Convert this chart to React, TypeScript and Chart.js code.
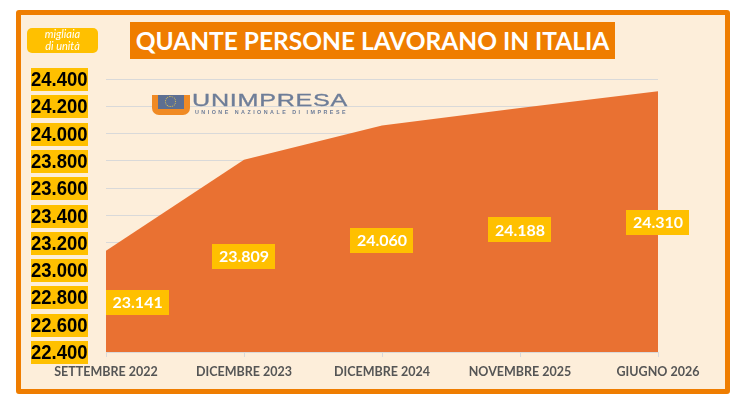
import React, { useEffect, useLayoutEffect, useRef } from "react";
import { Chart, registerables } from "chart.js";

Chart.register(...registerables);

const categories = ["SETTEMBRE 2022", "DICEMBRE 2023", "DICEMBRE 2024", "NOVEMBRE 2025", "GIUGNO 2026"];
const occupati = [23141, 23809, 24060, 24188, 24310];
// vertical placement of the value badges, in data units
const labelAnchor = [22766, 23103, 23220, 23294, 23352];
const yMin = 22400;
const yMax = 24400;
const yStep = 200;

const ORANGE = "#EF7D00";
const AREA = "#E97132";
const YELLOW = "#FFC000";
const BG = "#FDEEDA";

const fmt = (v: number) => v.toLocaleString("de-DE");

const yLabelPlugin = {
  id: "yLabels",
  afterDraw(chart: any) {
    const { ctx } = chart;
    const ys = chart.scales.y;
    const right = ys.right - 18;
    const sx = 0.88;
    ctx.save();
    ctx.font = "bold 21px 'Liberation Sans'";
    ctx.textBaseline = "middle";
    ctx.textAlign = "left";
    ys.ticks.forEach((t: any, i: number) => {
      const y = Math.round(ys.getPixelForTick(i));
      const txt = fmt(t.value);
      const w = Math.round(ctx.measureText(txt).width * sx);
      const top = y - 11;
      ctx.fillStyle = YELLOW;
      ctx.fillRect(right - w, top, w, 23);
      ctx.save();
      ctx.translate(right - w, y + 1);
      ctx.scale(sx, 1);
      ctx.fillStyle = "#000000";
      ctx.fillText(txt, 0, 0);
      ctx.restore();
    });
    ctx.restore();
  },
};

const badgePlugin = {
  id: "badges",
  afterDatasetsDraw(chart: any) {
    const { ctx, chartArea } = chart;
    const meta = chart.getDatasetMeta(0);
    const ys = chart.scales.y;
    ctx.save();
    ctx.font = "bold 16px Lato";
    ctx.textAlign = "center";
    ctx.textBaseline = "middle";
    meta.data.forEach((pt: any, i: number) => {
      const txt = fmt(occupati[i]);
      const w = ctx.measureText(txt).width + 13;
      const h = 25;
      let cx = pt.x;
      if (cx - w / 2 < chartArea.left) cx = chartArea.left + w / 2;
      const cy = ys.getPixelForValue(labelAnchor[i]);
      ctx.fillStyle = YELLOW;
      ctx.fillRect(Math.round(cx - w / 2), Math.round(cy - h / 2), Math.round(w), h);
      ctx.fillStyle = "#FFFFFF";
      ctx.fillText(txt, cx, cy + 1);
    });
    ctx.restore();
  },
};

function ChartCanvas() {
  const ref = useRef<HTMLCanvasElement | null>(null);
  useEffect(() => {
    if (!ref.current) return;
    const chart = new Chart(ref.current, {
      type: "line",
      data: {
        labels: categories,
        datasets: [
          {
            data: occupati,
            fill: "start",
            backgroundColor: AREA,
            borderColor: AREA,
            borderWidth: 0,
            pointRadius: 0,
            tension: 0,
          },
        ],
      },
      options: {
        animation: false,
        responsive: false,
        maintainAspectRatio: false,
        layout: { padding: { left: 0, right: 67, top: 64, bottom: 0 } },
        plugins: { legend: { display: false }, tooltip: { enabled: false } },
        scales: {
          x: {
            type: "category",
            offset: false,
            grid: { drawOnChartArea: false, drawTicks: true, tickLength: 5, color: "#D9D9D9" },
            border: { color: "#D9D9D9", width: 1 },
            ticks: {
              color: "#555555",
              font: { family: "Lato", weight: "bold", size: 12.5 },
              padding: 7,
              maxRotation: 0,
              autoSkip: false,
            },
            afterFit: (s: any) => {
              s.height = 37;
            },
          },
          y: {
            min: yMin,
            max: yMax,
            grid: { color: "#D9D9D9", drawTicks: false, lineWidth: 1 },
            border: { display: false },
            ticks: {
              stepSize: yStep,
              display: false,
            },
            afterFit: (s: any) => {
              s.width = 85;
            },
          },
        },
      } as any,
      plugins: [badgePlugin, yLabelPlugin],
    });
    return () => chart.destroy();
  }, []);
  return <canvas ref={ref} width={704} height={374} style={{ width: 704, height: 374, display: "block" }} />;
}

function FitText(props: { width: number; style: React.CSSProperties; children: React.ReactNode }) {
  const ref = useRef<HTMLSpanElement | null>(null);
  useLayoutEffect(() => {
    const el = ref.current;
    if (!el) return;
    el.style.transform = "none";
    const w = el.getBoundingClientRect().width;
    if (w > 0) el.style.transform = `scaleX(${props.width / w})`;
  }, [props.width]);
  return (
    <span
      ref={ref}
      style={{ position: "absolute", whiteSpace: "nowrap", transformOrigin: "left center", display: "inline-block", ...props.style }}
    >
      {props.children}
    </span>
  );
}

function Logo() {
  const slate = "#6E7D98";
  return (
    <div style={{ position: "absolute", left: 152, top: 94, width: 200, height: 24 }}>
      <div
        style={{
          position: "absolute",
          left: 0,
          top: 1,
          width: 38,
          height: 20,
          background: "#F08A24",
          borderRadius: "0 0 7px 7px",
        }}
      >
        <div
          style={{
            position: "absolute",
            left: 6,
            top: 0,
            width: 26,
            height: 14,
            background: "#5D6F92",
          }}
        >
          <div
            style={{
              position: "absolute",
              left: 7,
              top: 1,
              width: 9,
              height: 9,
              borderRadius: "50%",
              border: "1.5px dotted #E8C84A",
            }}
          />
        </div>
      </div>
      <FitText
        width={156}
        style={{
          left: 40,
          top: -2,
          fontFamily: "Liberation Sans",
          fontSize: 17,
          lineHeight: "18px",
          color: slate,
          letterSpacing: 0.5,
          WebkitTextStroke: "0.3px " + slate,
        }}
      >
        UNIMPRESA
      </FitText>
      <FitText
        width={153}
        style={{
          left: 43,
          top: 15,
          fontFamily: "Liberation Sans",
          fontWeight: "bold",
          fontSize: 5,
          lineHeight: "6px",
          color: slate,
          letterSpacing: 2.3,
        }}
      >
        UNIONE NAZIONALE DI IMPRESE
      </FitText>
    </div>
  );
}

export default function App() {
  return (
    <div style={{ position: "fixed", left: 0, top: 0, width: 739, height: 408, background: "#FFFFFF" }}>
      <div
        style={{
          position: "absolute",
          left: 16,
          top: 10,
          width: 714,
          height: 384,
          boxSizing: "border-box",
          border: "5px solid " + ORANGE,
          borderRadius: 3,
          background: BG,
        }}
      />
      <div style={{ position: "absolute", left: 21, top: 15, width: 704, height: 374 }}>
        <ChartCanvas />
      </div>
      <div
        style={{
          position: "absolute",
          left: 130,
          top: 22,
          width: 485,
          height: 37,
          background: ORANGE,
          color: "#FFFFFF",
          fontFamily: "Lato",
          fontWeight: "bold",
          fontSize: 24.5,
          lineHeight: "37px",
          textAlign: "center",
          whiteSpace: "nowrap",
        }}
      >
        QUANTE PERSONE LAVORANO IN ITALIA
      </div>
      <div
        style={{
          position: "absolute",
          left: 27,
          top: 28,
          width: 71,
          height: 25,
          background: YELLOW,
          borderRadius: 5,
          color: "#FFFFFF",
          fontFamily: "Lato",
          fontStyle: "italic",
          fontSize: 11,
          lineHeight: "12px",
          textAlign: "center",
          paddingTop: 0,
          boxSizing: "border-box",
        }}
      >
        migliaia
        <br />
        di unità
      </div>
      <Logo />
    </div>
  );
}
